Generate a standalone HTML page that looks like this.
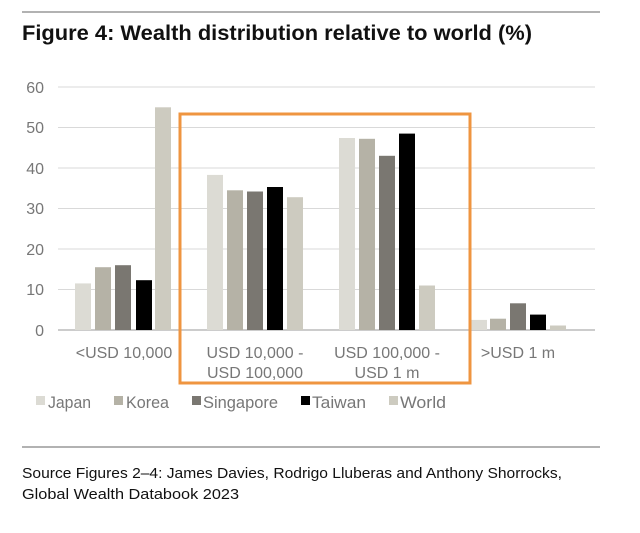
<!DOCTYPE html>
<html><head><meta charset="utf-8"><style>
body{margin:0;background:#fff;}
svg{display:block;font-family:"Liberation Sans",Arial,sans-serif;}
</style></head><body>
<svg width="640" height="533" viewBox="0 0 640 533">
<rect width="640" height="533" fill="#fff"/>
<line x1="22" y1="12" x2="600" y2="12" stroke="#999" stroke-width="1.5"/>
<text x="22" y="40" font-size="21" font-weight="bold" fill="#111" textLength="510" lengthAdjust="spacingAndGlyphs">Figure 4: Wealth distribution relative to world (%)</text>
<g stroke="#d9d9d9" stroke-width="1">
<line x1="58" y1="87" x2="595" y2="87"/><line x1="58" y1="127.5" x2="595" y2="127.5"/>
<line x1="58" y1="168" x2="595" y2="168"/><line x1="58" y1="208.5" x2="595" y2="208.5"/>
<line x1="58" y1="249" x2="595" y2="249"/><line x1="58" y1="289.5" x2="595" y2="289.5"/>
</g>
<line x1="58" y1="330" x2="595" y2="330" stroke="#bbb" stroke-width="1.5"/>
<g font-size="16" fill="#777" text-anchor="end">
<text x="44" y="93">60</text><text x="44" y="133">50</text><text x="44" y="174">40</text>
<text x="44" y="214">30</text><text x="44" y="255">20</text><text x="44" y="295">10</text><text x="44" y="336">0</text>
</g>
<g>
<rect x="75" y="283.4" width="16" height="46.6" fill="#dcdbd4"/>
<rect x="95" y="267.2" width="16" height="62.8" fill="#b5b2a6"/>
<rect x="115" y="265.2" width="16" height="64.8" fill="#7a7771"/>
<rect x="136" y="280.2" width="16" height="49.8" fill="#000"/>
<rect x="155" y="107.3" width="16" height="222.7" fill="#cdcbc0"/>
<rect x="207" y="174.9" width="16" height="155.1" fill="#dcdbd4"/>
<rect x="227" y="190.3" width="16" height="139.7" fill="#b5b2a6"/>
<rect x="247" y="191.5" width="16" height="138.5" fill="#7a7771"/>
<rect x="267" y="187" width="16" height="143" fill="#000"/>
<rect x="287" y="197.2" width="16" height="132.8" fill="#cdcbc0"/>
<rect x="339" y="138" width="16" height="192" fill="#dcdbd4"/>
<rect x="359" y="138.8" width="16" height="191.2" fill="#b5b2a6"/>
<rect x="379" y="155.8" width="16" height="174.2" fill="#7a7771"/>
<rect x="399" y="133.6" width="16" height="196.4" fill="#000"/>
<rect x="419" y="285.5" width="16" height="44.5" fill="#cdcbc0"/>
<rect x="471" y="319.9" width="16" height="10.1" fill="#dcdbd4"/>
<rect x="490" y="318.7" width="16" height="11.3" fill="#b5b2a6"/>
<rect x="510" y="303.3" width="16" height="26.7" fill="#7a7771"/>
<rect x="530" y="314.6" width="16" height="15.4" fill="#000"/>
<rect x="550" y="325.5" width="16" height="4.5" fill="#cdcbc0"/>
</g>
<rect x="180" y="114" width="290" height="269" fill="none" stroke="#ef9540" stroke-width="3"/>
<g font-size="16" fill="#777" text-anchor="middle">
<text x="124" y="358">&lt;USD 10,000</text>
<text x="255" y="358">USD 10,000 -</text><text x="255" y="378">USD 100,000</text>
<text x="387" y="358">USD 100,000 -</text><text x="387" y="378">USD 1 m</text>
<text x="518" y="358">&gt;USD 1 m</text>
</g>
<g font-size="17" fill="#777">
<rect x="36" y="396" width="9" height="9" fill="#dcdbd4"/><text x="48" y="408" textLength="43" lengthAdjust="spacingAndGlyphs">Japan</text>
<rect x="114" y="396" width="9" height="9" fill="#b5b2a6"/><text x="126" y="408" textLength="43" lengthAdjust="spacingAndGlyphs">Korea</text>
<rect x="192" y="396" width="9" height="9" fill="#7a7771"/><text x="203" y="408" textLength="75" lengthAdjust="spacingAndGlyphs">Singapore</text>
<rect x="301" y="396" width="9" height="9" fill="#000"/><text x="312" y="408" textLength="54" lengthAdjust="spacingAndGlyphs">Taiwan</text>
<rect x="389" y="396" width="9" height="9" fill="#cdcbc0"/><text x="400" y="408" textLength="46" lengthAdjust="spacingAndGlyphs">World</text>
</g>
<line x1="22" y1="447" x2="600" y2="447" stroke="#999" stroke-width="1.5"/>
<g font-size="15" fill="#111">
<text x="22" y="478" textLength="540" lengthAdjust="spacingAndGlyphs">Source Figures 2–4: James Davies, Rodrigo Lluberas and Anthony Shorrocks,</text>
<text x="22" y="499" textLength="217" lengthAdjust="spacingAndGlyphs">Global Wealth Databook 2023</text>
</g>
</svg>
</body></html>
